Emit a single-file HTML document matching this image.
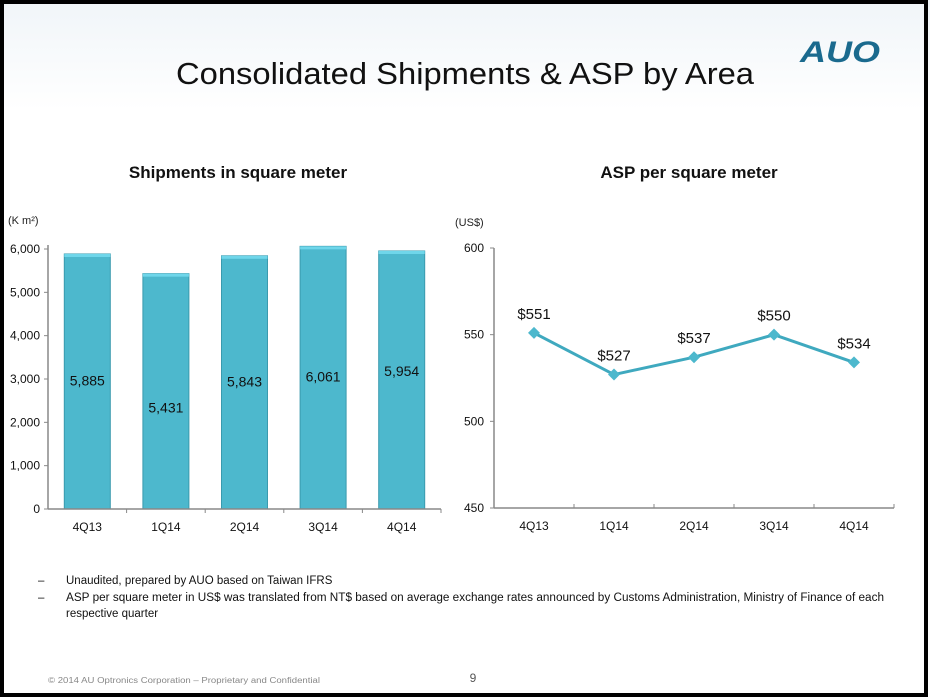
<!DOCTYPE html>
<html><head><meta charset="utf-8"><style>
html,body{margin:0;padding:0;background:#fff}
svg{display:block;font-family:"Liberation Sans",sans-serif}
</style></head><body>
<svg width="930" height="700" viewBox="0 0 930 700">
<defs>
<linearGradient id="bg" x1="0" y1="0" x2="0" y2="1"><stop offset="0" stop-color="#e6eef4"/><stop offset="1" stop-color="#fff"/></linearGradient>
</defs>
<rect x="0" y="0" width="930" height="700" fill="#fff"/>
<rect x="0" y="0" width="930" height="110" fill="url(#bg)" opacity="0.6"/>
<rect x="2" y="2" width="924" height="693" fill="none" stroke="#000" stroke-width="4"/>
<text x="176" y="84" font-size="31" fill="#111" textLength="578" lengthAdjust="spacingAndGlyphs">Consolidated Shipments &amp; ASP by Area</text>
<text x="800" y="62" font-size="30" font-weight="bold" font-style="italic" fill="#1a6a8e" textLength="80" lengthAdjust="spacingAndGlyphs">AUO</text>
<text x="238" y="178" font-size="17" font-weight="bold" text-anchor="middle" fill="#111">Shipments in square meter</text>
<text x="689" y="178" font-size="17" font-weight="bold" text-anchor="middle" fill="#111">ASP per square meter</text>
<text x="8" y="224" font-size="11" fill="#222">(K m²)</text>
<text x="455" y="226" font-size="11" fill="#222">(US$)</text>
<g id="left"></g>
<g id="right"></g>
<g font-size="11.5" fill="#111">
<text x="38" y="584">–</text><text x="66" y="584">Unaudited, prepared by AUO based on Taiwan IFRS</text>
<text x="38" y="601">–</text><text x="66" y="601" textLength="818" lengthAdjust="spacingAndGlyphs">ASP per square meter in US$ was translated from NT$ based on average exchange rates announced by Customs Administration, Ministry of Finance of each</text>
<text x="66" y="617">respective quarter</text>
</g>
<text x="48" y="683" font-size="8" fill="#888" textLength="272" lengthAdjust="spacingAndGlyphs">© 2014 AU Optronics Corporation – Proprietary and Confidential</text>
<text x="473" y="682" font-size="12" fill="#555" text-anchor="middle">9</text>
</svg>
<script>
const categories=["4Q13","1Q14","2Q14","3Q14","4Q14"];
const shipments=[5885,5431,5843,6061,5954];
const shipmentLabels=["5,885","5,431","5,843","6,061","5,954"];
const shipTicks=[0,1000,2000,3000,4000,5000,6000];
const shipTickLabels=["0","1,000","2,000","3,000","4,000","5,000","6,000"];
const asp=[551,527,537,550,534];
const aspTicks=[450,500,550,600];
const NS="http://www.w3.org/2000/svg";
function mk(p,t,a,txt){const e=document.createElementNS(NS,t);for(const k in a)e.setAttribute(k,a[k]);if(txt!==undefined)e.textContent=txt;p.appendChild(e);return e;}
// left chart
(function(){
const g=document.getElementById('left');
const x0=48,x1=441,y0=509,y1=249,vmin=0,vmax=6000;
const y=v=>y0-(v-vmin)/(vmax-vmin)*(y0-y1);
const bw=(x1-x0)/categories.length;
const xc=i=>x0+bw*(i+0.5);
shipTicks.forEach((t,i)=>{
 const l=mk(g,'line',{x1:x0-4,x2:x0,y1:y(t),y2:y(t),stroke:'#888'});
 const tx=mk(g,'text',{x:x0-8,y:y(t)+4,'font-size':12,'text-anchor':'end',fill:'#111'},shipTickLabels[i]);
 
 
});
categories.forEach((c,i)=>{
 const v=shipments[i];
 const b=mk(g,'rect',{x:xc(i)-23,y:y(v),width:46,height:y0-y(v),fill:'#4db8cd',stroke:'#3a9aae','stroke-width':1});
 
 
 mk(g,'rect',{x:xc(i)-23,y:y(v),width:46,height:3,fill:'#6fd6ea'});
 const lbl=mk(g,'text',{x:xc(i),y:y(v)+(y0-y(v))/2+(i==1?21:i==4?-4:4)+0,'font-size':14,'text-anchor':'middle',fill:'#111'},shipmentLabels[i]);
 
 
 const cl=mk(g,'text',{x:xc(i),y:y0+22,'font-size':12,'text-anchor':'middle',fill:'#111'},c);
 
 
 mk(g,'line',{x1:x0+bw*(i+1),x2:x0+bw*(i+1),y1:y0,y2:y0+4,stroke:'#888'});
});
mk(g,'line',{x1:x0,x2:x0,y1:y1-4,y2:y0,stroke:'#888','stroke-width':1.5});
mk(g,'line',{x1:x0,x2:x1,y1:y0,y2:y0,stroke:'#888','stroke-width':1.5});
})();
// right chart
(function(){
const g=document.getElementById('right');
const x0=494,x1=894,y0=508,y1=248,vmin=450,vmax=600;
const y=v=>y0-(v-vmin)/(vmax-vmin)*(y0-y1);
const bw=(x1-x0)/categories.length;
const xc=i=>x0+bw*(i+0.5);
aspTicks.forEach(t=>{
 mk(g,'line',{x1:x0-4,x2:x0,y1:y(t),y2:y(t),stroke:'#888'});
 const tx=mk(g,'text',{x:x0-10,y:y(t)+4,'font-size':12,'text-anchor':'end',fill:'#111'},String(t));
 
 
});
mk(g,'line',{x1:x0,x2:x0,y1:y1,y2:y0,stroke:'#888','stroke-width':1.5});
mk(g,'line',{x1:x0,x2:x1,y1:y0,y2:y0,stroke:'#888','stroke-width':1.5});
const pts=asp.map((v,i)=>xc(i)+','+y(v)).join(' ');
const pl=mk(g,'polyline',{points:pts,fill:'none',stroke:'#3fa9bf','stroke-width':3});


categories.forEach((c,i)=>{
 const cx=xc(i),cy=y(asp[i]);
 const m=mk(g,'polygon',{points:`${cx},${cy-6} ${cx+6},${cy} ${cx},${cy+6} ${cx-6},${cy}`,fill:'#4db8cd'});
 
 
 const lb=mk(g,'text',{x:cx,y:cy-14,'font-size':15,'text-anchor':'middle',fill:'#111'},'$'+asp[i]);
 
 
 const cl=mk(g,'text',{x:cx,y:y0+22,'font-size':12,'text-anchor':'middle',fill:'#111'},c);
 
 
 mk(g,'line',{x1:x0+bw*(i+1),x2:x0+bw*(i+1),y1:y0,y2:y0-4,stroke:'#888'});
});
})();
</script>
</body></html>
